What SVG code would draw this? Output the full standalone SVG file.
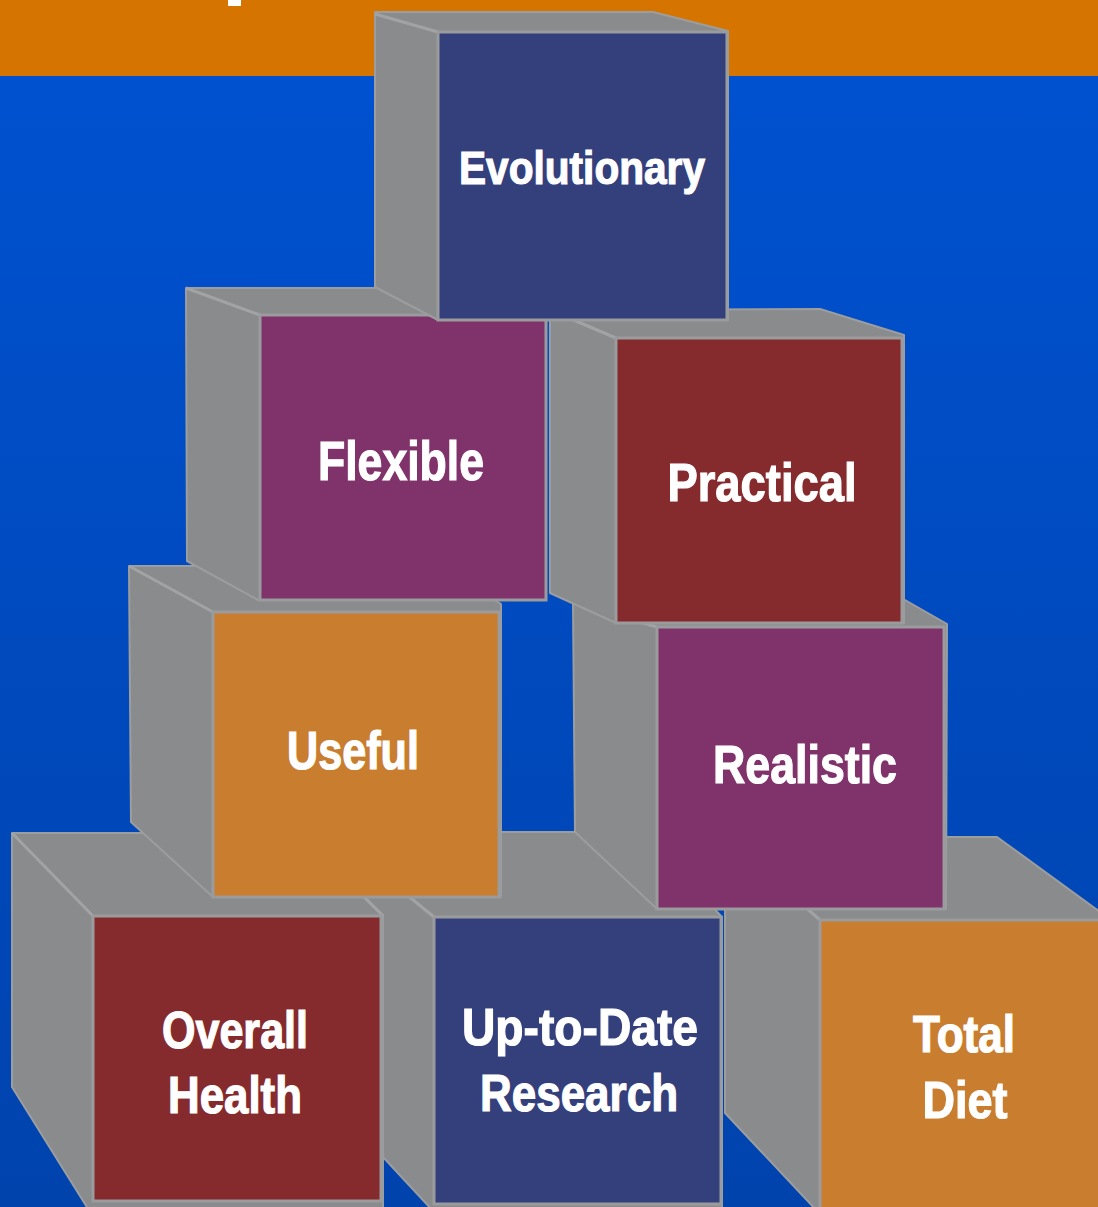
<svg xmlns="http://www.w3.org/2000/svg" width="1098" height="1207" viewBox="0 0 1098 1207">
  <defs>
    <linearGradient id="bg" x1="0" y1="0" x2="0" y2="1">
      <stop offset="0" stop-color="#0052d2"/>
      <stop offset="1" stop-color="#0043ad"/>
    </linearGradient>
    <style>
      .side { fill: #8a8b8d; stroke: #9c9d9f; stroke-width: 2; stroke-linejoin: round; }
      .edge { fill: none; stroke: #a2a3a5; stroke-width: 3; }
      .front { stroke: #9a9b9d; stroke-width: 3; }
      .navy { fill: #34407c; }
      .plum { fill: #80336b; }
      .wine { fill: #862b2d; }
      .amber { fill: #c97d2f; }
      .label { font-family: "Liberation Sans", Arial, sans-serif; font-weight: bold; fill: #ffffff; stroke: #ffffff; stroke-width: 1.2; text-anchor: middle; }
    </style>
  </defs>

  <!-- background -->
  <rect x="0" y="0" width="1098" height="1207" fill="url(#bg)"/>
  <rect x="0" y="0" width="1098" height="76" fill="#d57500"/>
  <rect x="228" y="0" width="13" height="6" fill="#ffffff"/>

  <g id="connectors"/>

  <!-- bottom row -->
  <g id="total-diet">
    <polygon class="side" points="725,837 997,837 1111,920 1111,1212 818,1212 725,1113"/>
    <line class="edge" x1="725" y1="837" x2="820" y2="920"/>
    <rect class="front amber" x="820" y="920" width="290" height="290"/>
    <text class="label" font-size="52" x="964" y="1052" textLength="102" lengthAdjust="spacingAndGlyphs">Total</text>
    <text class="label" font-size="52" x="965" y="1118" textLength="85" lengthAdjust="spacingAndGlyphs">Diet</text>
  </g>

  <g id="up-to-date-research">
    <polygon class="side" points="300,832 640,832 722,917 722,1212 434,1212 383,1157 300,1100"/>
    <line class="edge" x1="330" y1="832" x2="434" y2="917"/>
    <rect class="front navy" x="434" y="917" width="287" height="287"/>
    <text class="label" font-size="52" x="580" y="1045" textLength="236" lengthAdjust="spacingAndGlyphs">Up-to-Date</text>
    <text class="label" font-size="52" x="579" y="1111" textLength="198" lengthAdjust="spacingAndGlyphs">Research</text>
  </g>

  <g id="overall-health">
    <polygon class="side" points="12,833 300,833 383,915 383,1212 90,1212 12,1087"/>
    <line class="edge" x1="12" y1="833" x2="93" y2="916"/>
    <line class="edge" x1="300" y1="833" x2="383" y2="916"/>
    <rect class="front wine" x="93" y="916" width="288" height="285"/>
    <text class="label" font-size="52" x="235" y="1048" textLength="146" lengthAdjust="spacingAndGlyphs">Overall</text>
    <text class="label" font-size="52" x="235" y="1113" textLength="134" lengthAdjust="spacingAndGlyphs">Health</text>
  </g>

  <!-- second row -->
  <g id="realistic">
    <polygon class="side" points="573,603 905,600 947,624 946,909 657,909 575,832"/>
    <line class="edge" x1="573" y1="603" x2="657" y2="627"/>
    <rect class="front plum" x="657" y="627" width="287" height="282"/>
    <text class="label" font-size="54" x="805" y="783" textLength="184" lengthAdjust="spacingAndGlyphs">Realistic</text>
  </g>

  <g id="useful">
    <polygon class="side" points="129,566 440,566 501,604 501,897 213,897 131,822"/>
    <line class="edge" x1="129" y1="566" x2="213" y2="612"/>
    <rect class="front amber" x="213" y="612" width="286" height="285"/>
    <text class="label" font-size="53" x="353" y="769" textLength="132" lengthAdjust="spacingAndGlyphs">Useful</text>
  </g>

  <!-- third row -->
  <g id="practical">
    <polygon class="side" points="550,310 820,309 904,335 904,623 616,623 550,593"/>
    <line class="edge" x1="550" y1="310" x2="616" y2="338"/>
    <rect class="front wine" x="616" y="338" width="286" height="285"/>
    <text class="label" font-size="53" x="762" y="501" textLength="189" lengthAdjust="spacingAndGlyphs">Practical</text>
  </g>

  <g id="flexible">
    <polygon class="side" points="186,288 480,288 546,315 546,600 258,600 187,561"/>
    <line class="edge" x1="186" y1="288" x2="260" y2="315"/>
    <rect class="front plum" x="260" y="315" width="286" height="285"/>
    <text class="label" font-size="55" x="401" y="480" textLength="166" lengthAdjust="spacingAndGlyphs">Flexible</text>
  </g>

  <!-- top block -->
  <g id="evolutionary">
    <polygon class="side" points="375,12 653,12 728,31 728,320 438,320 375,287"/>
    <line class="edge" x1="375" y1="14" x2="438" y2="32"/>
    <rect class="front navy" x="438" y="32" width="289" height="288"/>
    <text class="label" font-size="47" x="582" y="184" textLength="246" lengthAdjust="spacingAndGlyphs">Evolutionary</text>
  </g>
</svg>
